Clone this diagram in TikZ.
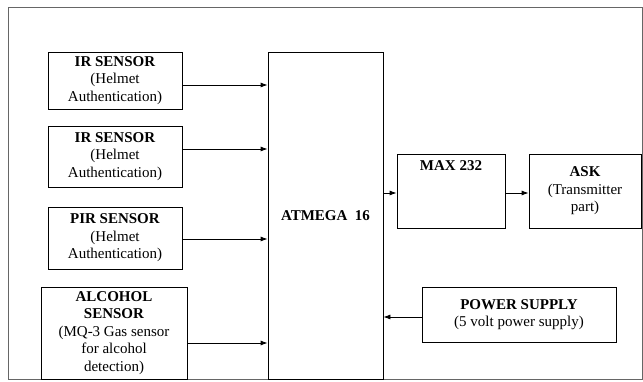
\documentclass[tikz,border=0pt]{standalone}
\usepackage{fontspec}
\setmainfont{Liberation Serif}
\usetikzlibrary{arrows.meta}
\begin{document}
\fontsize{15}{17.5}\selectfont
\begin{tikzpicture}[x=1pt, y=1pt,
  blk/.style={draw, line width=0.8pt, rectangle, inner sep=0pt, align=center},
  arr/.style={-{Latex[length=7pt,width=5pt]}, line width=0.8pt}]
\useasboundingbox (0,0) rectangle (643,382);
\draw[gray!80!black, line width=1pt] (8,2) rectangle (642,374);
% sensors
\node[blk, minimum width=134, minimum height=57] (ir1) at (115,301.5){\textbf{IR SENSOR}\\(Helmet\\Authentication)};
\node[blk, minimum width=134, minimum height=61] (ir2) at (115,225.5){\textbf{IR SENSOR}\\(Helmet\\Authentication)};
\node[blk, minimum width=134, minimum height=62] (pir) at (115,144){\textbf{PIR SENSOR}\\(Helmet\\Authentication)};
\node[blk, minimum width=146, minimum height=92] (alc) at (114,49){\textbf{ALCOHOL}\\\textbf{SENSOR}\\(MQ-3 Gas sensor\\for alcohol\\detection)};
% controller
\node[blk, minimum width=115, minimum height=327] (atm) at (325.5,166.5){\textbf{ATMEGA\ \ 16}};
% output side
\node[blk, minimum width=108, minimum height=74] (max) at (451,191){};
\node[anchor=north, inner sep=0pt] (maxtxt) at ([yshift=-7]max.north){\textbf{MAX 232}};
\node[blk, minimum width=112, minimum height=74] (ask) at (585,191){\textbf{ASK}\\(Transmitter\\part)};
\node[blk, minimum width=194, minimum height=55] (pwr) at (519,67.5){\textbf{POWER SUPPLY}\\(5 volt power supply)};
% links
\draw[arr] ([yshift=-4.5]ir1.east) -- ([yshift=-4.5]ir1.east -| atm.west);
\draw[arr] ([yshift=7.5]ir2.east) -- ([yshift=7.5]ir2.east -| atm.west);
\draw[arr] ([yshift=-1]pir.east) -- ([yshift=-1]pir.east -| atm.west);
\draw[arr] ([yshift=-10]alc.east) -- ([yshift=-10]alc.east -| atm.west);
\draw[arr] ([yshift=-2]max.west -| atm.east) -- ([yshift=-2]max.west);
\draw[arr] ([yshift=-2]max.east) -- ([yshift=-2]ask.west);
\draw[arr] ([yshift=-2.5]pwr.west) -- ([yshift=-2.5]pwr.west -| atm.east);
\end{tikzpicture}
\end{document}
